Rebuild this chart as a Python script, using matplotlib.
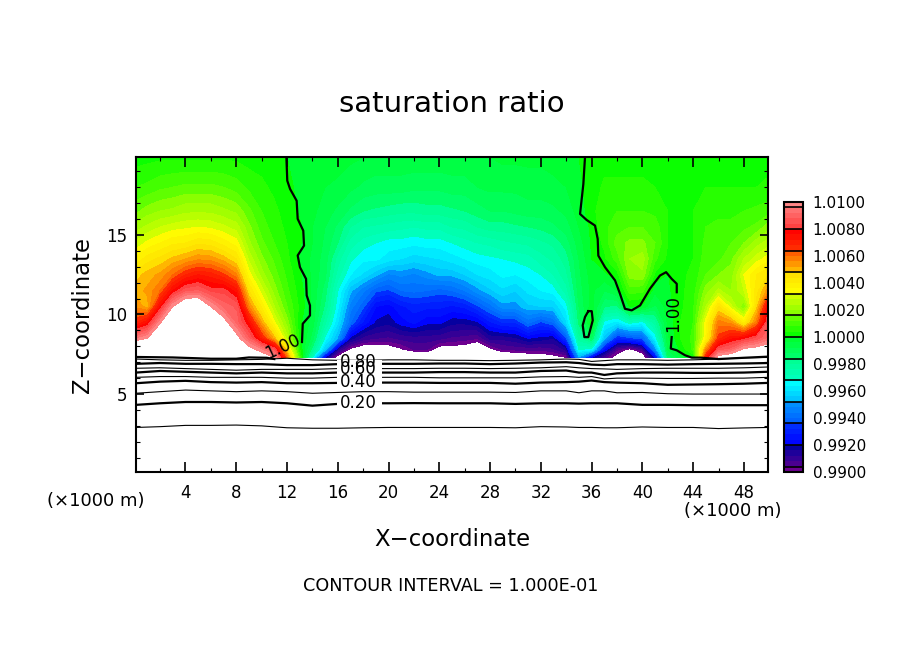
import matplotlib
matplotlib.use('Agg')
import matplotlib.pyplot as plt
from matplotlib.colors import LinearSegmentedColormap, Normalize
from matplotlib.patches import Rectangle
import numpy as np

# heights of the field rows (x1000 m)
z_rows = [7.3, 7.8, 8.5, 9.5, 10.5, 11.5, 12.5, 13.5, 14.5, 15.5, 16.5, 18, 19.9]
x_cols = [0.1] + list(range(1, 50)) + [49.9]

# saturation ratio minus one, in units of 1e-3, one list per column, bottom to top
s_x00 = [12, 12, 9.5, 6.8, 5.5, 5, 4.6, 3.7, 2.9, 2.2, 1.5, 0.8, 0.2]
s_x01 = [13, 13, 10, 7.5, 5, 5.3, 5, 4.2, 3.3, 2.5, 1.8, 0.9, 0.25]
s_x02 = [14, 14, 12.5, 9.8, 7.6, 6, 5.3, 4.5, 3.6, 2.8, 2, 1.1, 0.3]
s_x03 = [14, 14, 14, 13, 10, 7.6, 6, 4.9, 3.9, 3, 2.1, 1.2, 0.3]
s_x04 = [14, 14, 14, 14, 11.5, 8.6, 6.8, 5.2, 4, 3.1, 2.3, 1.3, 0.3]
s_x05 = [14, 14, 14, 14, 11.5, 8.8, 7.2, 5.5, 4.3, 3.2, 2.3, 1.3, 0.3]
s_x06 = [14, 14, 14, 13, 10, 8.2, 7, 5.4, 4.2, 3.1, 2.3, 1.3, 0.3]
s_x07 = [13, 13, 13, 10.5, 9, 8.2, 6.5, 5, 3.8, 2.9, 2.1, 1.2, 0.3]
s_x08 = [13, 13, 10.5, 9, 8.7, 7.4, 5.7, 4.4, 3.4, 2.6, 1.9, 1.0, 0.3]
s_x09 = [12, 10.5, 8.8, 7.5, 5.6, 4.4, 3.4, 2.7, 2.1, 1.7, 1.3, 0.7, 0.2]
s_x10 = [11, 9.5, 7, 5.2, 3.9, 3, 2.2, 1.7, 1.3, 1, 0.8, 0.5, 0.2]
s_x11 = [10, 8.5, 5, 3.3, 2.4, 1.8, 1.4, 1.1, 0.8, 0.6, 0.5, 0.3, 0.1]
s_x12 = [6, 4.4, 2.6, 1.8, 1.2, 0.9, 0.7, 0.5, 0.4, 0.3, 0.2, 0.1, 0]
s_x13 = [1, 0.4, 0.2, 0.1, 0.3, 0.2, 0.05, -0.05, 0.05, 0.05, -0.05, -0.1, -0.05]
s_x14 = [-3.3, -1.8, -1, -0.6, -0.5, -0.5, -0.5, -0.5, -0.4, -0.4, -0.3, -0.2, -0.1]
s_x15 = [-8, -4.5, -3.3, -2.3, -1.7, -1.4, -1.1, -1, -0.9, -0.8, -0.6, -0.4, -0.2]
s_x16 = [-10.5, -8.7, -4.9, -4, -3.5, -3.2, -2.6, -2.2, -1.6, -1.3, -0.9, -0.5, -0.2]
s_x17 = [-11, -10.2, -8.2, -6, -5.4, -4.7, -3.6, -3.1, -2.6, -2, -1.3, -0.7, -0.3]
s_x18 = [-12, -10.7, -9, -7.3, -6.3, -5.5, -4.1, -3.5, -3, -2.4, -1.6, -0.9, -0.4]
s_x19 = [-12, -10.6, -9.2, -8.1, -7.6, -6.3, -4.7, -3.5, -3.2, -2.5, -1.7, -1, -0.5]
s_x20 = [-12, -10.5, -9.3, -8.3, -7.8, -6.5, -5.3, -3.8, -3.4, -2.6, -1.8, -1, -0.5]
s_x21 = [-12, -10.1, -9.1, -7.8, -7.3, -6, -5.1, -4, -3.4, -2.7, -1.9, -1, -0.5]
s_x22 = [-11.5, -9.6, -9, -7.5, -7, -5.9, -5.3, -4.2, -3.5, -2.8, -1.9, -1.1, -0.5]
s_x23 = [-11, -9.6, -9, -7.9, -7.1, -6, -5, -4.1, -3.4, -2.7, -1.8, -1.1, -0.5]
s_x24 = [-11, -10.4, -9.1, -7.9, -7.1, -6.2, -4.7, -4, -3.4, -2.7, -1.8, -1.1, -0.5]
s_x25 = [-12, -10.4, -9.3, -8.3, -7.3, -6, -4.7, -3.8, -3.2, -2.4, -1.7, -1, -0.5]
s_x26 = [-12, -10.5, -9.4, -8.3, -7.1, -5.6, -4.4, -3.6, -3, -2.3, -1.6, -1, -0.5]
s_x27 = [-13, -11, -9.6, -8.1, -6.5, -5, -4, -3.4, -2.8, -2, -1.4, -0.8, -0.4]
s_x28 = [-11.5, -10.2, -8.7, -7.3, -5.8, -4.5, -3.8, -3.3, -2.7, -1.8, -1.2, -0.7, -0.4]
s_x29 = [-11, -9.6, -8.7, -6.8, -5, -4.1, -3.5, -3.2, -2.5, -1.8, -1.2, -0.7, -0.3]
s_x30 = [-11, -9.5, -8.5, -6.8, -5, -4.4, -3.6, -3.1, -2.4, -1.7, -1.1, -0.7, -0.3]
s_x31 = [-10.6, -9.5, -8, -5.9, -4.5, -3.9, -3.4, -3, -2.3, -1.6, -1, -0.6, -0.3]
s_x32 = [-10.6, -9.5, -8.2, -6.5, -4.4, -3.6, -3.2, -2.6, -2.1, -1.5, -1, -0.6, -0.3]
s_x33 = [-10.3, -9.3, -8.4, -6, -4.4, -3.4, -2.8, -2.3, -1.9, -1.3, -0.9, -0.5, -0.25]
s_x34 = [-10, -8.7, -6.5, -4.1, -3.4, -2.6, -2.1, -1.8, -1.4, -1, -0.7, -0.4, -0.2]
s_x35 = [-5, -3.2, -2.2, -1.5, -1.2, -1, -0.9, -0.8, -0.6, -0.4, -0.2, -0.05, 0]
s_x36 = [-8, -3.4, -1.2, 0.15, -0.2, -0.3, -0.2, 0, 0.05, 0.1, 0.2, 0.1, 0.05]
s_x37 = [-9.4, -7.6, -4.7, -3.4, -1.6, -0.8, -0.1, 0.3, 0.5, 0.7, 0.8, 0.5, 0.2]
s_x38 = [-10.4, -9.5, -7, -3.8, -1.7, -0.4, 0.2, 1, 1.4, 1, 0.8, 0.5, 0.2]
s_x39 = [-11, -10.2, -6.6, -3, 0, 1, 1.8, 2, 1.7, 1.2, 0.8, 0.5, 0.2]
s_x40 = [-10.8, -9.4, -6.2, -3.4, -0.1, 0.9, 1.9, 2.2, 1.7, 1.2, 0.8, 0.5, 0.2]
s_x41 = [-8, -5.3, -3.6, -2.2, -0.9, -0.3, 0.3, 0.9, 1.2, 1, 0.7, 0.4, 0.2]
s_x42 = [-1.5, -0.8, -0.5, -0.3, -0.2, -0.1, -0.02, 0.3, 0.4, 0.4, 0.4, 0.3, 0.2]
s_x43 = [-0.5, 0.1, 0.4, 0.4, 0.3, 0.3, 0.3, 0.3, 0.4, 0.4, 0.4, 0.3, 0.2]
s_x44 = [0, 0.9, 0.9, 0.8, 0.7, 0.6, 0.5, 0.4, 0.4, 0.4, 0.4, 0.3, 0.2]
s_x45 = [7, 5.5, 3.6, 3.4, 2.4, 1.8, 1.2, 1, 0.9, 0.8, 0.6, 0.4, 0.2]
s_x46 = [10.5, 8.5, 6.6, 5.8, 4.4, 2.5, 1.6, 1.1, 1, 0.9, 0.7, 0.4, 0.2]
s_x47 = [11, 8.9, 7.5, 5.4, 2.9, 2, 1.8, 1.5, 1.2, 0.9, 0.7, 0.4, 0.2]
s_x48 = [12, 10.2, 7.8, 3.8, 1.6, 2.8, 3.2, 2.4, 1.6, 1.1, 0.8, 0.4, 0.2]
s_x49 = [12, 10.5, 8.4, 5.8, 4.6, 4.2, 4, 3, 2.2, 1.3, 0.9, 0.4, 0.2]
s_x50 = [12, 10.8, 9.2, 8.5, 7.6, 5.4, 4.4, 3.4, 2.6, 1.8, 1, 0.5, 0.2]

# lower contour lines, height at each x
line_x = [0.1, 2, 4, 6, 8, 10, 12, 14, 16, 18, 20, 22, 24, 26, 28, 30, 32, 34, 35, 36, 37, 38,
          40, 42, 44, 46, 48, 49.9]
line_010 = [2.9, 2.95, 3.03, 3.03, 3.05, 3.0, 2.88, 2.85, 2.85, 2.88, 2.9, 2.9, 2.9, 2.9, 2.9, 2.88, 2.95, 2.93, 2.9, 2.9, 2.88, 2.88, 2.93, 2.9, 2.9, 2.83, 2.87, 2.9]
line_020 = [4.32, 4.42, 4.5, 4.5, 4.47, 4.5, 4.42, 4.27, 4.38, 4.42, 4.42, 4.43, 4.42, 4.42, 4.42, 4.38, 4.42, 4.42, 4.4, 4.42, 4.42, 4.42, 4.32, 4.32, 4.3, 4.3, 4.3, 4.3]
line_030 = [5.05, 5.15, 5.25, 5.2, 5.15, 5.2, 5.15, 5.05, 5.1, 5.15, 5.15, 5.12, 5.12, 5.12, 5.12, 5.1, 5.2, 5.2, 5.08, 5.2, 5.2, 5.08, 5.1, 5.02, 5.0, 5.0, 5.0, 5.0]
line_040 = [5.68, 5.78, 5.83, 5.75, 5.72, 5.75, 5.68, 5.68, 5.7, 5.72, 5.72, 5.72, 5.7, 5.7, 5.7, 5.65, 5.72, 5.75, 5.78, 5.85, 5.75, 5.72, 5.68, 5.58, 5.6, 5.62, 5.65, 5.7]
line_050 = [6.05, 6.1, 6.1, 6.05, 6.05, 6.05, 6.0, 6.0, 6.05, 6.05, 6.05, 6.05, 6.02, 6.02, 6.02, 6.02, 6.08, 6.1, 6.05, 6.1, 5.95, 6.0, 6.0, 5.98, 5.98, 6.0, 6.0, 6.05]
line_060 = [6.35, 6.45, 6.4, 6.35, 6.3, 6.35, 6.3, 6.3, 6.35, 6.35, 6.35, 6.35, 6.38, 6.38, 6.35, 6.35, 6.45, 6.48, 6.35, 6.35, 6.2, 6.3, 6.35, 6.35, 6.33, 6.33, 6.35, 6.4]
line_070 = [6.62, 6.65, 6.6, 6.55, 6.5, 6.55, 6.55, 6.55, 6.6, 6.6, 6.6, 6.6, 6.62, 6.62, 6.6, 6.62, 6.65, 6.72, 6.65, 6.6, 6.58, 6.55, 6.6, 6.62, 6.62, 6.62, 6.65, 6.7]
line_080 = [6.9, 6.95, 6.9, 6.9, 6.88, 6.88, 6.82, 6.82, 6.88, 6.9, 6.9, 6.9, 6.92, 6.92, 6.88, 6.92, 6.98, 7.0, 6.95, 6.85, 6.82, 6.88, 6.88, 6.85, 6.88, 6.9, 6.92, 6.95]
line_090 = [7.2, 7.15, 7.12, 7.12, 7.15, 7.18, 7.25, 7.15, 7.12, 7.12, 7.15, 7.15, 7.12, 7.12, 7.1, 7.12, 7.15, 7.2, 7.18, 7.05, 7.1, 7.15, 7.15, 7.12, 7.15, 7.2, 7.28, 7.3]

# the 1.00 contour, traced
left_x = [11.95, 12.02, 12.24, 12.76, 12.84, 13.28, 13.34, 12.84, 13.02, 13.50, 13.55, 13.81, 13.81, 13.24, 13.18]
left_z = [19.9, 18.41, 17.89, 17.15, 16.01, 15.27, 14.33, 13.71, 12.97, 12.24, 11.20, 10.57, 9.94, 9.42, 8.27]
right_x = [35.48, 35.35, 35.09, 35.61, 36.27, 36.48, 36.53, 37.06, 37.85, 38.24, 38.63, 39.16, 39.82, 40.6, 41.39, 41.87, 42.31, 42.71, 42.71]
right_z = [19.9, 18.2, 16.32, 15.94, 15.59, 14.75, 13.7, 12.97, 12.14, 11.3, 10.36, 10.26, 10.57, 11.62, 12.45, 12.66, 12.24, 11.93, 11.4]
foot_x = [42.31, 42.24, 42.71, 43.36, 43.89, 44.54, 46, 48, 49.9]
foot_z = [8.58, 7.86, 7.75, 7.44, 7.29, 7.29, 7.2, 7.28, 7.35]
island_x = [35.74, 36.01, 36.09, 35.74, 35.43, 35.30, 35.48, 35.74]
island_z = [10.21, 10.21, 9.63, 8.58, 8.58, 9.32, 9.84, 10.21]
base_x = [0.1, 3, 6, 8, 9, 10.4, 11]
base_z = [7.33, 7.3, 7.22, 7.22, 7.3, 7.28, 7.2]

cbar_ticks = [0.990, 0.992, 0.994, 0.996, 0.998, 1.000, 1.002, 1.004, 1.006, 1.008, 1.010]
color_stops = [(0.990, '#800090'), (0.99049, '#500090'), (0.99191, '#0000a0'), (0.99209, '#0000ff'),
               (0.99348, '#0030ff'), (0.99368, '#0060ff'), (0.99503, '#0090ff'), (0.99528, '#00c0ff'),
               (0.99663, '#00ffff'), (0.99687, '#00ffc0'), (0.9983, '#00ff90'), (0.99847, '#00ff70'),
               (0.99982, '#00ff30'), (1.00006, '#00ff00'), (1.00141, '#60ff00'), (1.00166, '#80ff00'),
               (1.0030, '#d0ff00'), (1.00325, '#ffff00'), (1.0046, '#ffe000'), (1.00485, '#ffc000'),
               (1.0062, '#ff6000'), (1.00644, '#ff3000'), (1.0079, '#ff0000'), (1.00816, '#ff4040'),
               (1.00939, '#ff7070'), (1.010, '#ff9090')]

W, H = 904.0, 654.0

def ftext(px, py, s, **kw):
    fig.text(px / W, 1 - py / H, s, ha='center', va='center', **kw)

columns = [s_x00, s_x01, s_x02, s_x03, s_x04, s_x05, s_x06, s_x07, s_x08, s_x09,
           s_x10, s_x11, s_x12, s_x13, s_x14, s_x15, s_x16, s_x17, s_x18, s_x19,
           s_x20, s_x21, s_x22, s_x23, s_x24, s_x25, s_x26, s_x27, s_x28, s_x29,
           s_x30, s_x31, s_x32, s_x33, s_x34, s_x35, s_x36, s_x37, s_x38, s_x39,
           s_x40, s_x41, s_x42, s_x43, s_x44, s_x45, s_x46, s_x47, s_x48, s_x49, s_x50]
sat = 1 + np.column_stack(columns) / 1000.0

cmap = LinearSegmentedColormap.from_list(
    'sat', [(round((v - 0.99) / 0.02, 5), c) for v, c in color_stops], N=512)
levels = np.linspace(0.99, 1.01, 51)

fig = plt.figure(figsize=(W / 100, H / 100), dpi=100)
ax = fig.add_axes([136 / W, 1 - 472 / H, 632 / W, 315 / H])
cf = ax.contourf(x_cols, z_rows, sat, levels=levels, cmap=cmap, norm=Normalize(0.99, 1.01), zorder=1)

thin = 0.8
thick = 1.6
for i, vals in enumerate([line_010, line_020, line_030, line_040, line_050, line_060, line_070, line_080, line_090]):
    ax.plot(line_x, vals, color='black', lw=thick if i % 2 == 1 else thin, zorder=2)
for xs, zs in [(left_x, left_z), (right_x, right_z), (foot_x, foot_z), (island_x, island_z), (base_x, base_z)]:
    ax.plot(xs, zs, color='black', lw=thick, zorder=3)

# gaps in the lines behind the labels
ax.add_patch(Rectangle((15.9, 5.42), 3.6, 1.75, color='white', lw=0, zorder=2.5))
ax.add_patch(Rectangle((15.9, 4.0), 3.6, 0.85, color='white', lw=0, zorder=2.5))
for lab, z in [('0.80', 7.0), ('0.60', 6.55), ('0.40', 5.78), ('0.20', 4.44)]:
    ax.text(17.6, z, lab, ha='center', va='center', fontsize=12, zorder=4)
ax.text(11.7, 7.95, '1.00', ha='center', va='center', rotation=25, fontsize=12, zorder=4)
ax.text(42.4, 10.07, '1.00', ha='center', va='center', rotation=90, fontsize=12, zorder=4)

ax.set_xlim(0.1, 49.9)
ax.set_ylim(0.1, 19.9)
ax.set_xticks(np.arange(4, 49, 4))
ax.set_xticks(np.arange(2, 50, 2), minor=True)
ax.set_yticks([5, 10, 15])
ax.set_yticks(np.arange(1, 20, 1), minor=True)
ax.tick_params(axis='x', which='major', direction='in', top=True, length=7, width=1.2, labelsize=12, pad=9)
ax.tick_params(axis='x', which='minor', direction='in', top=True, length=3, width=0.8)
ax.tick_params(axis='y', which='major', direction='in', right=True, length=6, width=1.2, labelsize=12, pad=6)
ax.tick_params(axis='y', which='minor', direction='in', right=True, length=3, width=0.8)
for sp in ax.spines.values():
    sp.set_linewidth(1.5)
    sp.set_zorder(6)

cax = fig.add_axes([784 / W, 1 - 472 / H, 19 / W, 270 / H])
cb = fig.colorbar(cf, cax=cax)
cb.set_ticks(cbar_ticks, labels=['%.4f' % t for t in cbar_ticks])
cb.minorticks_off()
cax.tick_params(length=0, labelsize=11, pad=7)
cb.outline.set_linewidth(1.5)
cax.hlines(1.0 + 0.0016 * np.arange(-6, 7), 0, 1, color='black', lw=1.2)

ftext(452, 104, 'saturation ratio', fontsize=21)
ftext(452, 539, 'X\u2212coordinate', fontsize=16.4)
ftext(83, 315, 'Z\u2212coordinate', fontsize=16.4, rotation=90)
ftext(96, 501, '(\u00d71000 m)', fontsize=13)
ftext(733, 511, '(\u00d71000 m)', fontsize=13)
ftext(451, 586, 'CONTOUR INTERVAL = 1.000E-01', fontsize=12.7)

fig.savefig('out.png', dpi=100)
plt.close(fig)
